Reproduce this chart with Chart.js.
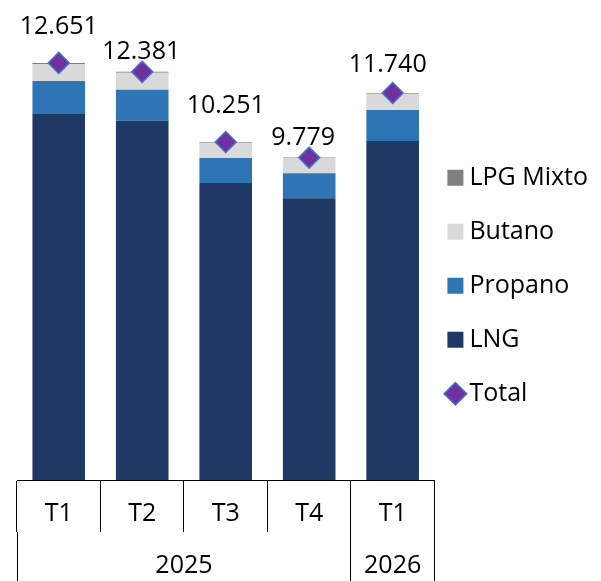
<!DOCTYPE html>
<html>
<head>
<meta charset="utf-8">
<script src="https://cdn.jsdelivr.net/npm/chart.js@4.4.1/dist/chart.umd.min.js"></script>
<style>
  html, body { margin: 0; padding: 0; background: #fff; }
</style>
</head>
<body>
<canvas id="gas-chart" width="601" height="581"></canvas>
<script>
// categories
const quarters = ['T1', 'T2', 'T3', 'T4', 'T1'];
const years = ['2025', '2026'];
const quartersPerYear = [4, 1];

// series (stack bottom -> top)
const lng = [11100, 10900, 9006, 8546, 10285];
const propano = [1000, 940, 758, 758, 940];
const butano = [520, 516, 467, 455, 495];
const lpgMixto = [31, 25, 20, 20, 20];
const totals = [12651, 12381, 10251, 9779, 11740];

const legendOrder = ['LPG Mixto', 'Butano', 'Propano', 'LNG', 'Total'];

// where each total label sits relative to its marker: [dx, lift]
const labelNudge = [[0, 29], [-1, 13], [0, 29], [-6, 12.5], [-5, 21]];

const fmt = v => String(v).replace(/\B(?=(\d{3})+(?!\d))/g, '.');

// year group edges and centres on a -0.5 .. n-0.5 axis
const yearEdges = [-0.5];
const yearCentres = [];
quartersPerYear.forEach(n => {
    const start = yearEdges[yearEdges.length - 1];
    yearCentres.push(start + n / 2);
    yearEdges.push(start + n);
});

Chart.defaults.font.family = '"Open Sans", sans-serif';
Chart.defaults.color = '#000';

const totalLabels = {
    id: 'totalLabels',
    afterDatasetsDraw(chart) {
        const meta = chart.getDatasetMeta(4);
        const ctx = chart.ctx;
        ctx.save();
        ctx.font = '25px "Open Sans"';
        ctx.fillStyle = '#000';
        ctx.textAlign = 'center';
        ctx.textBaseline = 'alphabetic';
        meta.data.forEach((pt, i) => {
            ctx.fillText(fmt(totals[i]), pt.x + labelNudge[i][0], pt.y - labelNudge[i][1]);
        });
        ctx.restore();
    }
};

new Chart(document.getElementById('gas-chart'), {
    type: 'bar',
    data: {
        labels: quarters,
        datasets: [
            { label: 'LNG', data: lng, backgroundColor: '#203864', stack: 'gas', order: 1, pointStyle: 'rect', borderWidth: 0 },
            { label: 'Propano', data: propano, backgroundColor: '#2E75B6', stack: 'gas', order: 1, pointStyle: 'rect', borderWidth: 0 },
            { label: 'Butano', data: butano, backgroundColor: '#D9D9D9', stack: 'gas', order: 1, pointStyle: 'rect', borderWidth: 0 },
            { label: 'LPG Mixto', data: lpgMixto, backgroundColor: '#7F7F7F', stack: 'gas', order: 1, pointStyle: 'rect', borderWidth: 0 },
            {
                type: 'line',
                label: 'Total',
                data: totals,
                stack: 'total',
                order: 0,
                showLine: false,
                pointStyle: 'rectRot',
                pointRadius: 10.5,
                pointBorderWidth: 1.5,
                backgroundColor: '#7030A0',
                borderColor: '#4472C4'
            }
        ]
    },
    options: {
        responsive: false,
        animation: false,
        events: [],
        categoryPercentage: 1,
        barPercentage: 0.63,
        layout: { autoPadding: false, padding: { left: 17, right: 3, top: 0, bottom: 0 } },
        plugins: {
            tooltip: { enabled: false },
            legend: {
                position: 'right',
                labels: {
                    usePointStyle: true,
                    boxWidth: 3,
                    boxHeight: 16,
                    padding: 19.5,
                    color: '#000',
                    font: { size: 25, lineHeight: 1.38 },
                    generateLabels(chart) {
                        const items = Chart.defaults.plugins.legend.labels.generateLabels(chart);
                        items.forEach(it => { it.text = [it.text]; });
                        return items.sort((a, b) => legendOrder.indexOf(a.text[0]) - legendOrder.indexOf(b.text[0]));
                    }
                }
            }
        },
        scales: {
            x: {
                stacked: true,
                offset: true,
                grid: { offset: true, drawOnChartArea: false, color: '#000', lineWidth: 1, tickLength: 52 },
                border: { display: true, color: '#000', width: 1 },
                ticks: { padding: -33, color: '#000', font: { size: 25 }, maxRotation: 0, autoSkip: false },
                afterFit: s => { s.height = 52; }
            },
            x2: {
                type: 'linear',
                position: 'bottom',
                offset: false,
                bounds: 'data',
                min: -0.5,
                max: quarters.length - 0.5,
                grid: {
                    offset: false,
                    drawOnChartArea: false,
                    tickLength: 49,
                    lineWidth: 1,
                    color: c => (c.tick && yearEdges.includes(c.tick.value)) ? '#000' : 'rgba(0,0,0,0)'
                },
                border: { display: false },
                ticks: {
                    padding: -30,
                    color: '#000',
                    font: { size: 25 },
                    maxRotation: 0,
                    autoSkip: false,
                    callback: v => {
                        const i = yearCentres.indexOf(v);
                        return i >= 0 ? years[i] : '';
                    }
                },
                afterBuildTicks: s => {
                    s.ticks = yearEdges.concat(yearCentres).sort((a, b) => a - b).map(v => ({ value: v }));
                },
                afterFit: s => { s.height = 49; }
            },
            y: { stacked: true, display: false, min: 0, max: 14560 }
        }
    },
    plugins: [totalLabels]
});
</script>
</body>
</html>
